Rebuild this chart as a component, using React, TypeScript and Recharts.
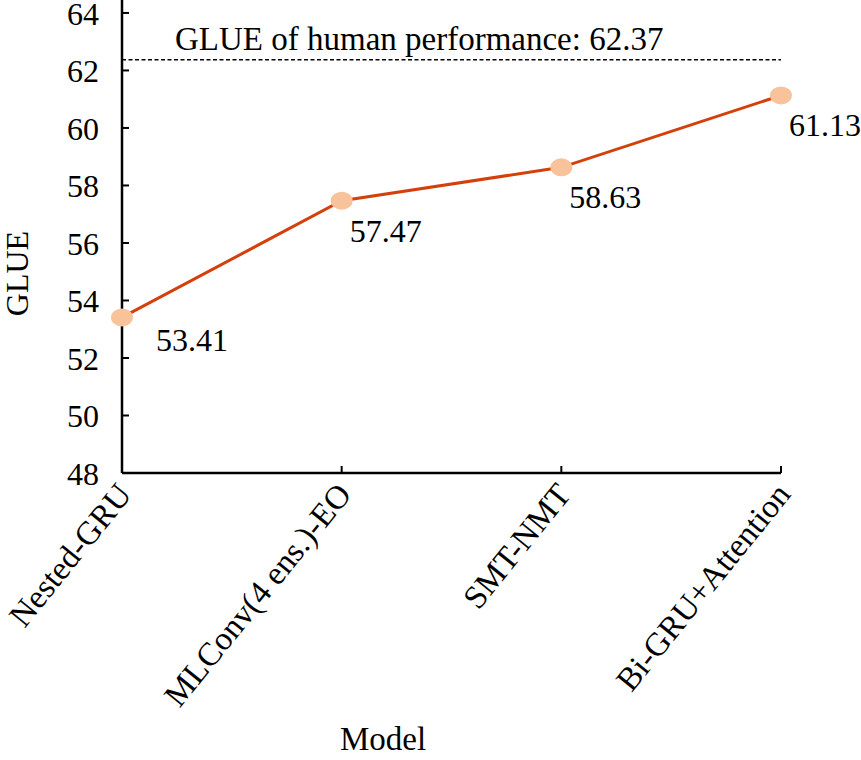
import React from 'react'
import { LineChart, Line, XAxis, YAxis, ReferenceLine, LabelList, Label } from 'recharts'

const models = ['Nested-GRU', 'MLConv(4 ens.)-EO', 'SMT-NMT', 'Bi-GRU+Attention']
const glue = [53.41, 57.47, 58.63, 61.13]
const yTicks = [48, 50, 52, 54, 56, 58, 60, 62, 64]
const humanGlue = 62.37

const data = models.map((model, i) => ({ model, glue: glue[i] }))

const FONT = '"Liberation Serif", "Times New Roman", serif'

const PeachDot = (props: any) => {
  const { cx, cy, index } = props
  if (cx == null || cy == null) return null
  return <ellipse key={`dot-${index}`} cx={cx} cy={cy} rx={11} ry={9} fill="#F8C39A" />
}

// value labels sit below-right of each point; the first one is pushed clear of the y axis
const ValueLabel = (props: any) => {
  const { x, y, value, index } = props
  const dx = index === 0 ? 34 : 8
  const dy = index === 0 ? 34 : 41
  return (
    <text x={x + dx} y={y + dy} fontSize={32} fontFamily={FONT} fill="#000">
      {value}
    </text>
  )
}

const XTick = (props: any) => {
  const { x, y, payload } = props
  const tx = x + 11
  return (
    <text
      x={tx}
      y={y}
      transform={`rotate(-51, ${tx}, ${y})`}
      textAnchor="end"
      fontSize={33}
      fontFamily={FONT}
      fill="#000"
    >
      {payload.value}
    </text>
  )
}

const YTick = (props: any) => {
  const { x, y, payload } = props
  return (
    <text x={x} y={y + 12} textAnchor="end" fontSize={32} fontFamily={FONT} fill="#000">
      {payload.value}
    </text>
  )
}

const YTitle = (props: any) => {
  const { viewBox } = props
  const x = viewBox.x + 17
  const y = viewBox.y + viewBox.height / 2 + 37
  return (
    <text
      x={x}
      y={y}
      transform={`rotate(-90, ${x}, ${y})`}
      textAnchor="middle"
      dominantBaseline="central"
      fontSize={32}
      fontFamily={FONT}
      fill="#000"
    >
      GLUE
    </text>
  )
}

const XTitle = (props: any) => {
  const { viewBox } = props
  return (
    <text x={viewBox.x + 261} y={viewBox.y + 277} textAnchor="middle" fontSize={33} fontFamily={FONT} fill="#000">
      Model
    </text>
  )
}

const HumanLabel = (props: any) => {
  const { viewBox } = props
  return (
    <text x={viewBox.x + 53} y={viewBox.y - 10} fontSize={33} fontFamily={FONT} fill="#000">
      {`GLUE of human performance: ${humanGlue}`}
    </text>
  )
}

const App = () => {
  return (
    <div style={{ position: 'absolute', left: 0, top: 0 }}>
      <LineChart width={861} height={760} data={data} margin={{ top: 0, right: 80, bottom: 0, left: 0 }}>
        <XAxis
          dataKey="model"
          height={287}
          padding={{ left: 0, right: 0 }}
          axisLine={{ stroke: '#000', strokeWidth: 2.5 }}
          tickLine={{ stroke: '#000', strokeWidth: 2 }}
          tickSize={-7}
          tickMargin={29}
          tick={<XTick />}
          interval={0}
        >
          <Label content={<XTitle />} />
        </XAxis>
        <YAxis
          width={122}
          type="number"
          domain={[48, 64.45]}
          ticks={yTicks}
          axisLine={{ stroke: '#000', strokeWidth: 2.5 }}
          tickLine={{ stroke: '#000', strokeWidth: 2 }}
          tickSize={-7}
          tickMargin={30}
          tick={<YTick />}
        >
          <Label content={<YTitle />} />
        </YAxis>
        <ReferenceLine
          y={humanGlue}
          stroke="#000"
          strokeWidth={1.5}
          strokeDasharray="4 2.5"
          label={<HumanLabel />}
        />
        <Line
          type="linear"
          dataKey="glue"
          stroke="#D4400C"
          strokeWidth={3}
          dot={(p: any) => <PeachDot key={`dot-${p.index}`} {...p} />}
          activeDot={false}
          isAnimationActive={false}
        >
          <LabelList dataKey="glue" content={<ValueLabel />} />
        </Line>
      </LineChart>
    </div>
  )
}

export default App
